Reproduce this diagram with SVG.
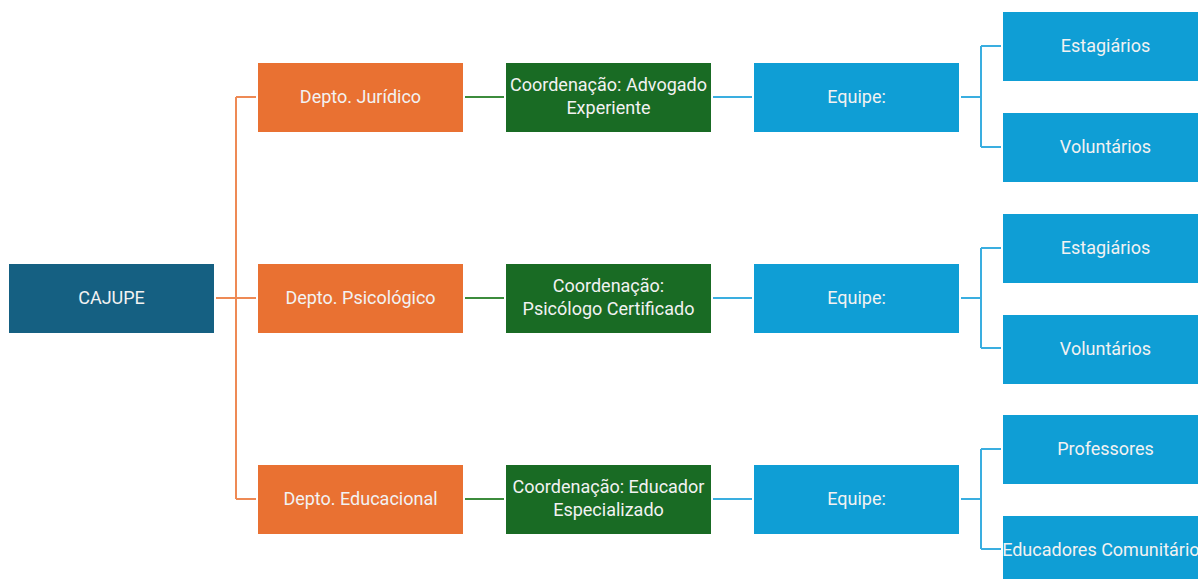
<svg xmlns="http://www.w3.org/2000/svg" width="1198" height="579" viewBox="0 0 1198 579">
<style>
text{font-family:Roboto,"Liberation Sans",sans-serif;font-size:18px;fill:#f2f2f2;text-anchor:middle}
.root{fill:#156082}
.dep{fill:#E97132}
.coo{fill:#196B24}
.eq{fill:#0F9ED5}
.lo{stroke:#EE8A55;stroke-width:2;fill:none}
.lg{stroke:#3C8C3C;stroke-width:2;fill:none}
.lb{stroke:#3AAEE0;stroke-width:2;fill:none}
</style>
<rect width="1198" height="579" fill="#ffffff"/>
<g id="connectors">
<path class="lo" d="M216 298H256M236 97V499M236 97H256M236 499H256"/>
<path class="lg" d="M465 97H504M465 298H504M465 499H504"/>
<path class="lb" d="M713 97H752M713 298H752M713 499H752"/>
<path class="lb" d="M961 97H981M981 46V147M981 46H1001M981 147H1001"/>
<path class="lb" d="M961 298H981M981 248V348M981 248H1001M981 348H1001"/>
<path class="lb" d="M961 499H981M981 449V549M981 449H1001M981 549H1001"/>
</g>
<g id="cajupe"><rect class="root" x="9" y="264" width="205" height="69"/><text x="111.5" y="304">CAJUPE</text></g>
<g id="dep-juridico"><rect class="dep" x="258" y="63" width="205" height="69"/><text x="360.5" y="103">Depto. Jurídico</text></g>
<g id="dep-psicologico"><rect class="dep" x="258" y="264" width="205" height="69"/><text x="360.5" y="304">Depto. Psicológico</text></g>
<g id="dep-educacional"><rect class="dep" x="258" y="465" width="205" height="69"/><text x="360.5" y="505">Depto. Educacional</text></g>
<g id="coord-juridico"><rect class="coo" x="506" y="63" width="205" height="69"/><text x="608.5" y="91">Coordenação: Advogado</text><text x="608.5" y="114">Experiente</text></g>
<g id="coord-psicologico"><rect class="coo" x="506" y="264" width="205" height="69"/><text x="608.5" y="292">Coordenação:</text><text x="608.5" y="315">Psicólogo Certificado</text></g>
<g id="coord-educacional"><rect class="coo" x="506" y="465" width="205" height="69"/><text x="608.5" y="493">Coordenação: Educador</text><text x="608.5" y="516">Especializado</text></g>
<g id="equipe-juridico"><rect class="eq" x="754" y="63" width="205" height="69"/><text x="856.5" y="103">Equipe:</text></g>
<g id="equipe-psicologico"><rect class="eq" x="754" y="264" width="205" height="69"/><text x="856.5" y="304">Equipe:</text></g>
<g id="equipe-educacional"><rect class="eq" x="754" y="465" width="205" height="69"/><text x="856.5" y="505">Equipe:</text></g>
<g id="estagiarios-1"><rect class="eq" x="1003" y="12" width="205" height="69"/><text x="1105.5" y="52">Estagiários</text></g>
<g id="voluntarios-1"><rect class="eq" x="1003" y="113" width="205" height="69"/><text x="1105.5" y="153">Voluntários</text></g>
<g id="estagiarios-2"><rect class="eq" x="1003" y="214" width="205" height="69"/><text x="1105.5" y="254">Estagiários</text></g>
<g id="voluntarios-2"><rect class="eq" x="1003" y="315" width="205" height="69"/><text x="1105.5" y="355">Voluntários</text></g>
<g id="professores"><rect class="eq" x="1003" y="415" width="205" height="69"/><text x="1105.5" y="455">Professores</text></g>
<g id="educadores"><rect class="eq" x="1003" y="516" width="205" height="69"/><text x="1105.5" y="556">Educadores Comunitários</text></g>
</svg>
